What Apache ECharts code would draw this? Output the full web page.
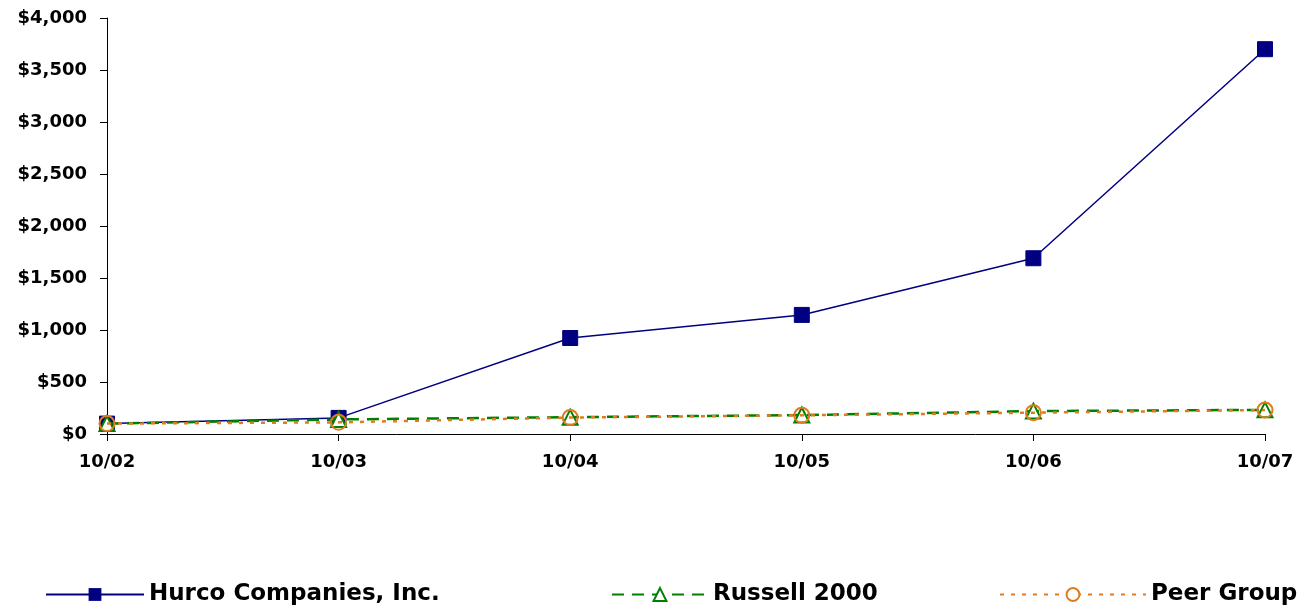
<!DOCTYPE html>
<html>
<head>
<meta charset="utf-8">
<script src="https://cdn.jsdelivr.net/npm/echarts@6/dist/echarts.min.js"></script>
<style>
  html, body { margin: 0; padding: 0; background: #fff; }
  #chart { width: 1309px; height: 605px; }
</style>
</head>
<body>
<div id="chart"></div>
<script>
// data
var years = ["10/02", "10/03", "10/04", "10/05", "10/06", "10/07"];
var hurco = [100, 155, 923, 1145, 1690, 3700];
var russell = [100, 140, 162, 182, 220, 232];
var peer = [100, 112, 158, 180, 205, 230];

var navy = "#000080";
var green = "#008000";
var orange = "#E07B1E";

var fmt = function (v) {
  return "$" + v.toString().replace(/\B(?=(\d{3})+(?!\d))/g, ",");
};

var labelFont = {
  color: "#000",
  fontFamily: "DejaVu Sans",
  fontWeight: "bold",
  fontSize: 18
};

var legendText = {
  color: "#000",
  fontFamily: "DejaVu Sans",
  fontWeight: "bold",
  fontSize: 23
};

var option = {
  animation: false,
  backgroundColor: "#fff",
  grid: { left: 107, right: 44, top: 18, bottom: 171, containLabel: false },
  legend: [
    {
      data: [{ name: "Hurco Companies, Inc." }],
      left: 40, top: 578,
      itemWidth: 98, itemHeight: 16, itemGap: 10,
      textStyle: legendText
    },
    {
      data: [{ name: "Russell 2000" }],
      left: 606, top: 578,
      itemWidth: 96, itemHeight: 16,
      textStyle: legendText
    },
    {
      data: [{
        name: "Peer Group",
        itemStyle: { color: "#fff", borderColor: orange, borderWidth: 2 }
      }],
      left: 994, top: 578,
      itemWidth: 146, itemHeight: 16,
      textStyle: legendText
    }
  ],
  xAxis: {
    type: "category",
    data: years,
    boundaryGap: false,
    axisLine: { lineStyle: { color: "#000", width: 1 } },
    axisTick: { show: true, length: 7, inside: false, lineStyle: { color: "#000" } },
    axisLabel: Object.assign({ margin: 19 }, labelFont),
    splitLine: { show: false }
  },
  yAxis: {
    type: "value",
    min: 0, max: 4000, interval: 500,
    axisLine: { show: true, lineStyle: { color: "#000", width: 1 } },
    axisTick: { show: true, length: 7, lineStyle: { color: "#000" } },
    axisLabel: Object.assign({ margin: 20, formatter: fmt }, labelFont),
    splitLine: { show: false }
  },
  series: [
    {
      name: "Hurco Companies, Inc.",
      type: "line",
      data: hurco,
      symbol: "rect",
      symbolSize: 15,
      z: 3,
      lineStyle: { color: navy, width: 1.5 },
      itemStyle: { color: navy, borderColor: navy }
    },
    {
      name: "Russell 2000",
      type: "line",
      data: russell,
      symbol: "triangle",
      symbolSize: 15,
      z: 4,
      lineStyle: { color: green, width: 2.5, type: [12, 8] },
      itemStyle: { color: "#fff", borderColor: green, borderWidth: 2 }
    },
    {
      name: "Peer Group",
      type: "line",
      data: peer,
      symbol: "circle",
      symbolSize: 15,
      z: 5,
      lineStyle: { color: orange, width: 2.5, type: [4, 7] },
      itemStyle: { color: "rgba(255,255,255,0)", borderColor: orange, borderWidth: 2 }
    }
  ]
};

var myChart = echarts.init(document.getElementById("chart"));
myChart.setOption(option);
</script>
</body>
</html>
